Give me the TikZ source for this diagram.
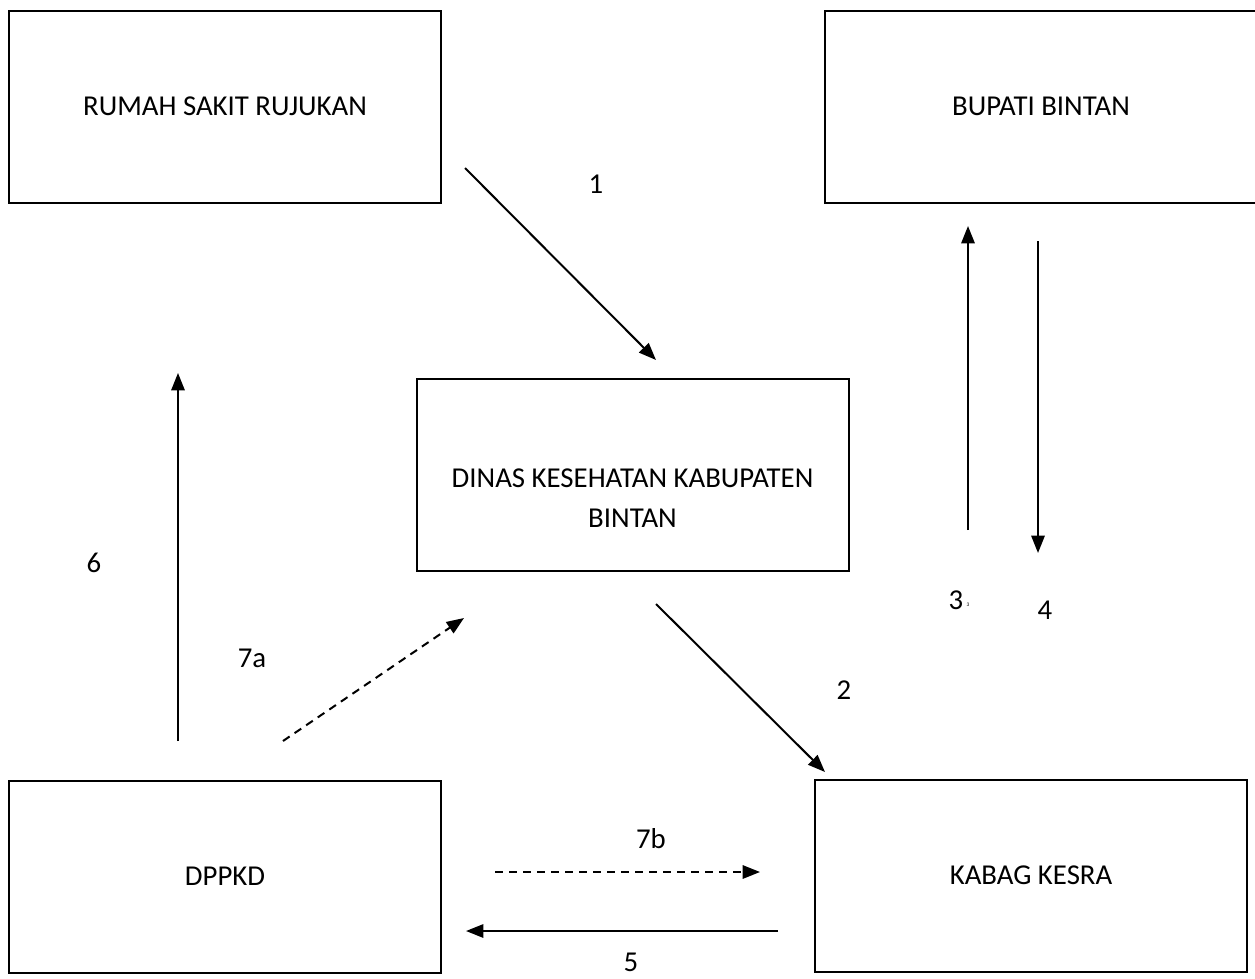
\documentclass[tikz,border=0pt]{standalone}
\usepackage{fontspec}
\setmainfont{Carlito}
\usetikzlibrary{arrows.meta}

\begin{document}
\begin{tikzpicture}[x=0.75pt,y=-0.75pt,
  kotak/.style={draw, line width=1.5pt, minimum width=324pt, minimum height=144pt, inner sep=0pt},
  panah/.style={line width=1.5pt, -{Triangle[length=13pt,width=10pt]}},
  putus/.style={panah, dash pattern=on 6pt off 4.5pt},
  every node/.append style={font=\fontsize{21.6}{30}\selectfont}]
\useasboundingbox (0,0) rectangle (1255,978);

\node[kotak] (rs) at (225,106.5) {RUMAH SAKIT RUJUKAN};
\node[kotak] (bupati) at (1041,106.5) {BUPATI BINTAN};
\node[kotak] (dinas) at (632.5,474.5) {};
\node[align=center] (dinasteks) at (632.5,498) {DINAS KESEHATAN KABUPATEN\\BINTAN};
\node[kotak] (dppkd) at (225,876.5) {DPPKD};
\node[kotak] (kabag) at (1031,875.5) {KABAG KESRA};

\coordinate (p1a) at (465,168);  \coordinate (p1b) at (656,360);
\coordinate (p2a) at (656,604);  \coordinate (p2b) at (825,772);
\coordinate (p3a) at (968,530);  \coordinate (p3b) at (968,226);
\coordinate (p4a) at (1038,241); \coordinate (p4b) at (1038,553);
\coordinate (p5a) at (778,931);  \coordinate (p5b) at (466,931);
\coordinate (p6a) at (178,741);  \coordinate (p6b) at (178,373);
\coordinate (p7aa) at (283,741); \coordinate (p7ab) at (464,618);
\coordinate (p7ba) at (495,872); \coordinate (p7bb) at (760,872);

\draw[panah] (p1a) -- (p1b);
\draw[panah] (p2a) -- (p2b);
\draw[panah] (p3a) -- (p3b);
\draw[panah] (p4a) -- (p4b);
\draw[panah] (p5a) -- (p5b);
\draw[panah] (p6a) -- (p6b);
\draw[putus] (p7aa) -- (p7ab);
\draw[putus] (p7ba) -- (p7bb);

\node (l1) at (596,184) {1};
\node (l2) at (844,690) {2};
\node (l3) at (956,600) {3};
\node[font=\fontsize{4}{5}\selectfont] (l3kecil) at (968,605) {3};
\node (l4) at (1045,610) {4};
\node (l5) at (631,962) {5};
\node (l6) at (94,563) {6};
\node (l7a) at (252,658) {7a};
\node (l7b) at (651,839) {7b};
\end{tikzpicture}
\end{document}
